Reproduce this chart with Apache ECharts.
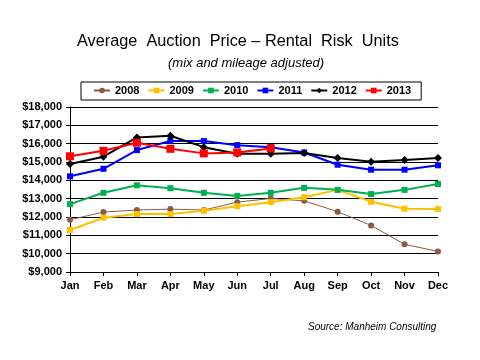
<!DOCTYPE html>
<html><head><meta charset="utf-8">
<script src="https://cdn.jsdelivr.net/npm/echarts@6/dist/echarts.min.js"></script>
<style>html,body{margin:0;padding:0;background:#fff}#c{width:480px;height:360px}</style>
</head><body><div id="c"></div>
<script>
var months = ['Jan','Feb','Mar','Apr','May','Jun','Jul','Aug','Sep','Oct','Nov','Dec'];
var y2008 = [11850,12270,12380,12430,12380,12810,13010,12880,12290,11540,10510,10120];
var y2009 = [11290,11960,12160,12160,12340,12590,12810,13080,13480,12830,12450,12430];
var y2010 = [12700,13320,13730,13570,13320,13150,13320,13590,13480,13250,13480,13800];
var y2011 = [14220,14630,15650,16150,16140,15920,15810,15520,14850,14580,14580,14820];
var y2012 = [14890,15290,16340,16430,15810,15450,15450,15490,15220,15020,15110,15220];
var y2013 = [15310,15610,16050,15720,15470,15520,15740];
var yTicks = {min: 9000, max: 18000, interval: 1000};

var chart = echarts.init(document.getElementById('c'));
function s(name, data, color, symbol, size, width) {
  return {name: name, type: 'line', data: data, symbol: symbol, symbolSize: size,
    lineStyle: {color: color, width: width}, itemStyle: {color: color}, animation: false};
}
chart.setOption({
  animation: false,
  textStyle: {fontFamily: 'Liberation Sans, Arial, sans-serif'},
  title: [
    {text: 'Average  Auction  Price \u2013 Rental  Risk  Units', left: 77, top: 34, padding: 0,
     textStyle: {fontSize: 16.3, fontWeight: 'normal', color: '#000', fontFamily: 'Liberation Sans'}},
    {text: '(mix and mileage adjusted)', left: 168, top: 57, padding: 0,
     textStyle: {fontSize: 13, fontWeight: 'normal', fontStyle: 'italic', color: '#000', fontFamily: 'Liberation Sans'}},
    {text: 'Source: Manheim Consulting', left: 308, top: 322, padding: 0,
     textStyle: {fontSize: 10, fontWeight: 'normal', fontStyle: 'italic', color: '#000', fontFamily: 'Liberation Sans'}}
  ],
  legend: {
    left: 81, top: 82,
    borderColor: '#000', borderWidth: 1, padding: [3, 10, 4, 12],
    itemWidth: 16, itemHeight: 7, itemGap: 8,
    textStyle: {fontSize: 11, fontWeight: 'bold', color: '#000'},
    data: ['2008','2009','2010','2011','2012','2013']
  },
  grid: {left: 70, right: 42, top: 107, bottom: 88},
  xAxis: {
    type: 'category', data: months, boundaryGap: false,
    axisLine: {lineStyle: {color: '#000', width: 1}},
    axisTick: {show: true, alignWithLabel: true, lineStyle: {color: '#000'}, length: 4},
    axisLabel: {color: '#000', fontWeight: 'bold', fontSize: 11, margin: 8},
    splitLine: {show: false}
  },
  yAxis: {
    type: 'value', min: yTicks.min, max: yTicks.max, interval: yTicks.interval,
    axisLine: {show: true, lineStyle: {color: '#000', width: 1}},
    axisTick: {show: true, lineStyle: {color: '#000'}, length: 4},
    axisLabel: {color: '#000', fontWeight: 'bold', fontSize: 11, margin: 8,
      formatter: function (v) { return '$' + v.toLocaleString('en-US'); }},
    splitLine: {show: true, lineStyle: {color: '#000', width: 1}}
  },
  series: [
    s('2008', y2008, '#8B5A45', 'circle', 6, 1),
    s('2009', y2009, '#FFC000', 'rect', 6, 2),
    s('2010', y2010, '#00B050', 'rect', 6, 2),
    s('2011', y2011, '#0000FF', 'rect', 6, 2),
    s('2012', y2012, '#000000', 'diamond', 8, 2),
    s('2013', y2013, '#FF0000', 'rect', 8, 2)
  ]
});
</script></body></html>
